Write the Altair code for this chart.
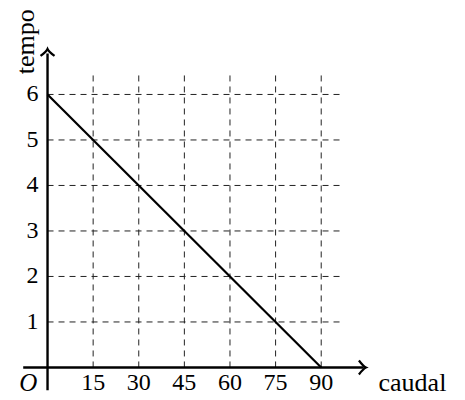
import altair as alt
import pandas as pd

# data
x_ticks = [15, 30, 45, 60, 75, 90]
y_ticks = [1, 2, 3, 4, 5, 6]
line_x = [0, 90]
line_y = [6, 0]

FONT = "Liberation Serif"
FS = 24
FS_T = 26

xs = alt.Scale(domain=[-13, 134], nice=False, zero=False)
ys = alt.Scale(domain=[-0.671, 7.9], nice=False, zero=False)

def X(v, **kw):
    return alt.X(v, scale=xs, axis=None, **kw)

def Y(v, **kw):
    return alt.Y(v, scale=ys, axis=None, **kw)

vgrid_df = pd.DataFrame({"x": x_ticks, "y0": [0] * len(x_ticks), "y1": [6.5] * len(x_ticks)})
hgrid_df = pd.DataFrame({"y": y_ticks, "x0": [0] * len(y_ticks), "x1": [97.5] * len(y_ticks)})
line_df = pd.DataFrame({"x": line_x, "y": line_y})
xt_df = pd.DataFrame({"x": x_ticks, "y": [0] * len(x_ticks), "t": [str(v) for v in x_ticks]})
yt_df = pd.DataFrame({"y": y_ticks, "x": [0] * len(y_ticks), "t": [str(v) for v in y_ticks]})

base = alt.Chart(pd.DataFrame({"a": [0]}))

vgrid = alt.Chart(vgrid_df).mark_rule(color="#222", strokeWidth=1, strokeDash=[6, 5]).encode(
    x=X("x:Q"), y=Y("y0:Q"), y2="y1:Q")
hgrid = alt.Chart(hgrid_df).mark_rule(color="#222", strokeWidth=1, strokeDash=[6, 5]).encode(
    y=Y("y:Q"), x=X("x0:Q"), x2="x1:Q")

xaxis = base.mark_rule(color="black", strokeWidth=2.4).encode(
    x=alt.X(datum=-8, scale=xs, axis=None),
    x2=alt.X2(datum=104), y=alt.Y(datum=0, scale=ys, axis=None))
yaxis = base.mark_rule(color="black", strokeWidth=2.4).encode(
    y=alt.Y(datum=-0.5, scale=ys, axis=None), y2=alt.Y2(datum=6.9),
    x=alt.X(datum=0, scale=xs, axis=None))

arrow_right = base.mark_point(
    shape="M-1,-1 Q-0.35,-0.15 0,0 Q-0.35,0.15 -1,1", size=196, filled=False,
    stroke="black", strokeWidth=2.2, opacity=1).encode(
    x=alt.X(datum=104.7, scale=xs, axis=None), y=alt.Y(datum=0, scale=ys, axis=None))
arrow_up = base.mark_point(
    shape="M-1,1 Q-0.15,0.35 0,0 Q0.15,0.35 1,1", size=196, filled=False,
    stroke="black", strokeWidth=2.2, opacity=1).encode(
    x=alt.X(datum=0, scale=xs, axis=None), y=alt.Y(datum=7.0, scale=ys, axis=None))

data_line = alt.Chart(line_df).mark_line(color="black", strokeWidth=2.2).encode(
    x=X("x:Q"), y=Y("y:Q"))

xlabels = alt.Chart(xt_df).mark_text(font=FONT, fontSize=FS, baseline="middle", align="center", dy=16).encode(
    x=X("x:Q"), y=Y("y:Q"), text="t:N")
ylabels = alt.Chart(yt_df).mark_text(font=FONT, fontSize=FS, baseline="middle", align="right", dx=-9).encode(
    x=X("x:Q"), y=Y("y:Q"), text="t:N")

origin = base.mark_text(font=FONT, fontSize=FS_T - 1, fontStyle="italic", baseline="middle", align="center", dy=16).encode(
    x=alt.X(datum=-6.3, scale=xs, axis=None), y=alt.Y(datum=0, scale=ys, axis=None), text=alt.value("O"))
xtitle = base.mark_text(font=FONT, fontSize=FS_T, baseline="middle", align="center", dy=16).encode(
    x=alt.X(datum=120, scale=xs, axis=None), y=alt.Y(datum=0, scale=ys, axis=None), text=alt.value("caudal"))
ytitle = base.mark_text(font=FONT, fontSize=FS_T, baseline="middle", align="center", angle=270).encode(
    x=alt.X(datum=-7.0, scale=xs, axis=None), y=alt.Y(datum=7.16, scale=ys, axis=None), text=alt.value("tempo"))

chart = alt.layer(vgrid, hgrid, data_line, xaxis, yaxis, arrow_right, arrow_up,
                  xlabels, ylabels, origin, xtitle, ytitle).properties(
    width=447, height=390, padding=0, autosize=alt.AutoSizeParams(type="none")
).configure_view(stroke=None)

chart.save("out.html", embed_options={"renderer": "svg", "actions": False})
